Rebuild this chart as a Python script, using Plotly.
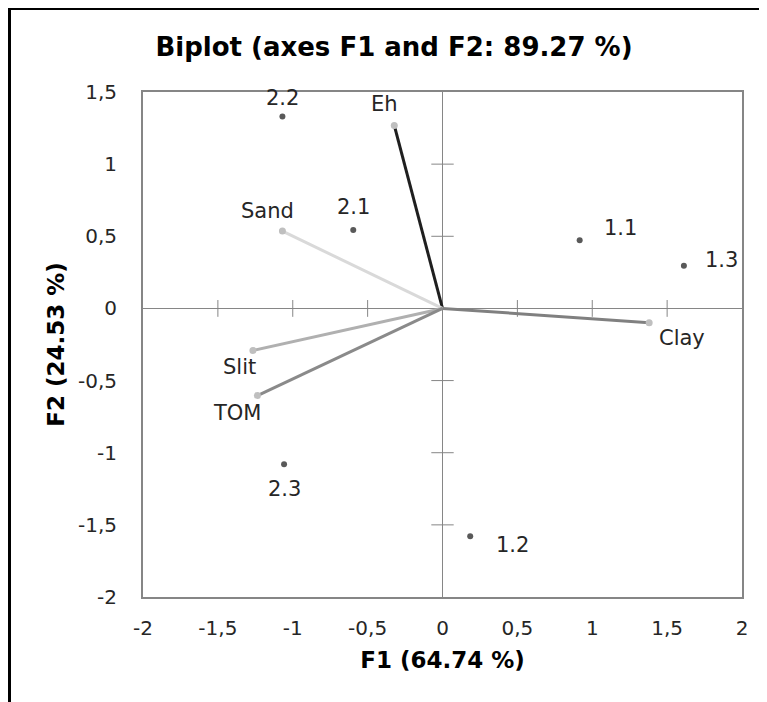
import plotly.graph_objects as go

# ---- data ----
obs_labels = ["1.1", "1.2", "1.3", "2.1", "2.2", "2.3"]
obs_f1 = [0.916, 0.185, 1.612, -0.596, -1.069, -1.058]
obs_f2 = [0.472, -1.579, 0.295, 0.544, 1.331, -1.080]

var_labels = ["Eh", "Sand", "Slit", "TOM", "Clay"]
var_f1 = [-0.322, -1.069, -1.266, -1.236, 1.380]
var_f2 = [1.268, 0.536, -0.291, -0.604, -0.099]

x_tickvals = [-2, -1.5, -1, -0.5, 0, 0.5, 1, 1.5, 2]
x_ticktext = ["-2", "-1,5", "-1", "-0,5", "0", "0,5", "1", "1,5", "2"]
y_tickvals = [-2, -1.5, -1, -0.5, 0, 0.5, 1, 1.5]
y_ticktext = ["-2", "-1,5", "-1", "-0,5", "0", "0,5", "1", "1,5"]

# ---- styles ----
var_colors = ["#1f1f1f", "#d9d9d9", "#b0b0b0", "#8a8a8a", "#808080"]
obs_shift = {"1.1": (41, 12), "1.2": (42, -9), "1.3": (38, 6), "2.1": (0, 23),
             "2.2": (0, 18), "2.3": (0, -25)}
var_shift = {"Eh": (-10, 21), "Sand": (-15, 20), "Slit": (-13, -17),
             "TOM": (-20, -17), "Clay": (33, -15)}

FONT = "DejaVu Sans"
TXT = "#262626"
AXC = "#868686"
LBL = 21

# page body adds an 8px offset, so the figure is sized to the remaining space
W, H = 759, 694
ML, MT, PW, PH = 135, 84, 599, 505

fig = go.Figure()

# tick marks crossing the zero lines
xt = [v for v in x_tickvals if v not in (0, -2, 2)]
yt = [v for v in y_tickvals if v not in (0, -2, 1.5)]
fig.add_trace(go.Scatter(
    x=xt, y=[0] * len(xt), mode="markers",
    marker=dict(symbol="line-ns", size=12, line=dict(color=AXC, width=1)),
    hoverinfo="skip", showlegend=False))
fig.add_trace(go.Scatter(
    x=[0] * len(yt), y=yt, mode="markers",
    marker=dict(symbol="line-ew", size=16, line=dict(color=AXC, width=1)),
    hoverinfo="skip", showlegend=False))

# variable vectors
for lab, fx, fy, col in zip(var_labels, var_f1, var_f2, var_colors):
    fig.add_trace(go.Scatter(
        x=[0, fx], y=[0, fy], mode="lines",
        line=dict(color=col, width=3), showlegend=False, hoverinfo="skip"))
fig.add_trace(go.Scatter(
    x=var_f1, y=var_f2, mode="markers",
    marker=dict(color="#bfbfbf", size=7), showlegend=False))

# observations
fig.add_trace(go.Scatter(
    x=obs_f1, y=obs_f2, mode="markers",
    marker=dict(color="#595959", size=6), showlegend=False))

# labels
for lab, fx, fy in zip(obs_labels, obs_f1, obs_f2):
    dx, dy = obs_shift[lab]
    fig.add_annotation(x=fx, y=fy, text=lab, showarrow=False,
                       xshift=dx, yshift=dy,
                       font=dict(family=FONT, size=LBL, color=TXT))
for lab, fx, fy in zip(var_labels, var_f1, var_f2):
    dx, dy = var_shift[lab]
    fig.add_annotation(x=fx, y=fy, text=lab, showarrow=False,
                       xshift=dx, yshift=dy,
                       font=dict(family=FONT, size=LBL, color=TXT))

# outer black frame (partially visible)
fig.add_shape(type="rect", xref="paper", yref="paper",
              x0=(1.5 - ML) / PW, x1=1.3, y0=-0.5, y1=1 + (MT - 0.5) / PH,
              line=dict(color="black", width=3), layer="below")

fig.update_layout(
    width=W, height=H,
    margin=dict(l=ML, r=W - ML - PW, t=MT, b=H - MT - PH, autoexpand=False),
    paper_bgcolor="white", plot_bgcolor="white",
    font=dict(family=FONT, color=TXT, size=20),
    title=dict(text="<b>Biplot (axes F1 and F2: 89.27 %)</b>",
               x=386 / W, xanchor="center", xref="container",
               y=1 - 39 / H, yanchor="middle", yref="container",
               font=dict(family=FONT, size=26, color="black")),
    showlegend=False,
)
fig.update_xaxes(
    range=[-2, 2], tickvals=x_tickvals, ticktext=x_ticktext,
    automargin=False,
    showgrid=False, zeroline=True, zerolinecolor=AXC, zerolinewidth=1,
    showline=True, mirror=True, linecolor=AXC, linewidth=2,
    ticks="outside", ticklen=12, tickcolor="rgba(0,0,0,0)",
    tickfont=dict(family=FONT, size=20, color=TXT),
    title=dict(text="<b>F1 (64.74 %)</b>", standoff=13,
               font=dict(family=FONT, size=23, color="black")))
fig.update_yaxes(
    range=[-2, 1.5], tickvals=y_tickvals, ticktext=y_ticktext,
    automargin=False,
    showgrid=False, zeroline=True, zerolinecolor=AXC, zerolinewidth=1,
    showline=True, mirror=True, linecolor=AXC, linewidth=2,
    ticks="outside", ticklen=20, tickcolor="rgba(0,0,0,0)",
    tickfont=dict(family=FONT, size=20, color=TXT),
    title=dict(text="<b>F2 (24.53 %)</b>", standoff=7,
               font=dict(family=FONT, size=23, color="black")))

fig.write_html("out.html")
